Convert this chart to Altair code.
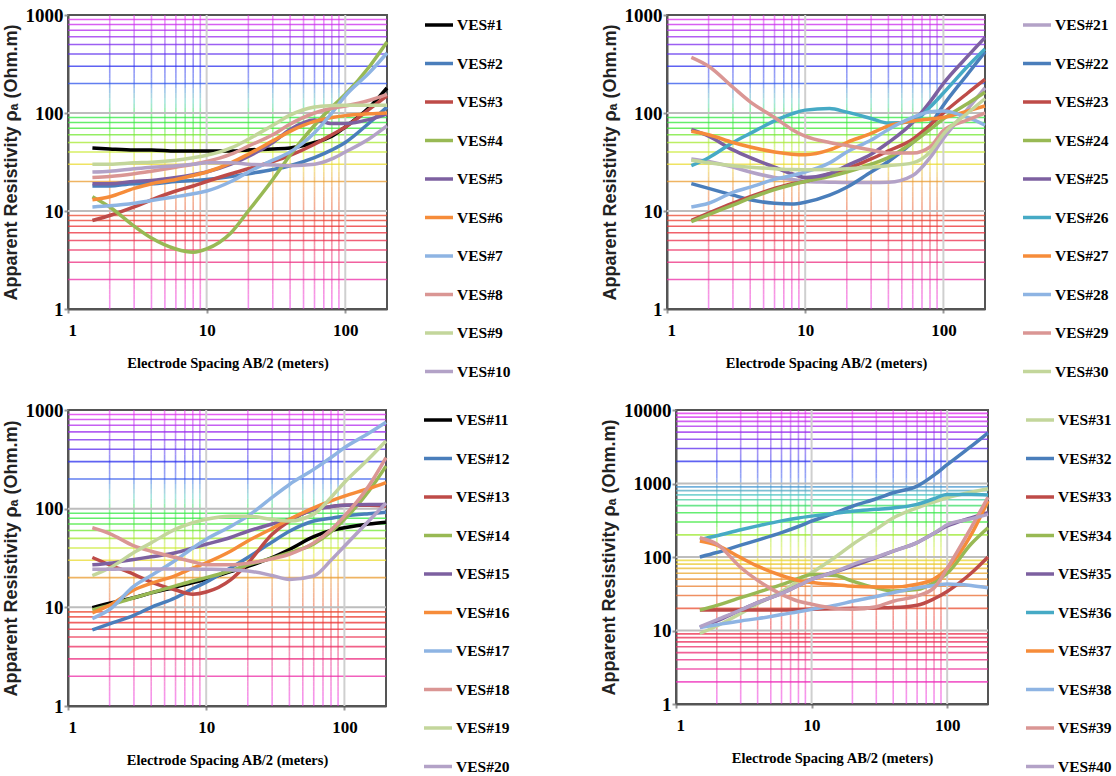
import colorsys
import numpy as np
import pandas as pd
import altair as alt

# ---------------- data ----------------
AB2 = [1.5, 2, 3, 4, 6, 8, 10, 15, 20, 30, 40, 60, 80, 100, 150, 200]

# panel 1
VES_01 = [44, 43, 42, 42, 41, 41, 41, 41, 42, 43, 44, 50, 58, 72, 115, 180]
VES_02 = [18, 18, 19, 19, 20, 20.5, 21, 22.5, 24, 26.5, 29, 35, 42, 50, 80, 115]
VES_03 = [8, 9, 11, 13, 16, 18, 20, 24, 27, 32, 37, 48, 60, 72, 110, 150]
VES_04 = [14, 11, 7, 5.3, 4.1, 3.8, 4.1, 6, 10, 21, 37, 75, 115, 155, 300, 530]
VES_05 = [19, 19, 20, 20.5, 22, 23.5, 25, 30, 36, 50, 68, 85, 78, 78, 86, 98]
VES_06 = [13, 14, 17, 19, 21, 23, 25, 31, 38, 52, 65, 82, 90, 94, 98, 100]
VES_07 = [11, 11.3, 12, 12.8, 14, 15, 16, 20, 25, 33, 40, 63, 100, 150, 260, 410]
VES_08 = [22, 22.5, 24, 25.5, 28, 30, 32, 38, 46, 60, 77, 100, 112, 118, 135, 155]
VES_09 = [30, 30, 31, 31.5, 33, 35, 37, 44, 54, 75, 95, 115, 119, 120, 120, 120]
VES_10 = [25, 25.5, 27, 28, 29, 30, 31, 31, 30, 29.5, 29, 30, 34, 40, 55, 74]

# panel 2
VES_21 = [34, 32, 28, 25, 22, 21, 20, 19.7, 19.5, 19.5, 19.6, 23, 35, 55, 110, 180]
VES_22 = [19, 17, 14.5, 13, 12, 11.8, 12.3, 14.5, 17.5, 25, 32, 50, 75, 120, 250, 420]
VES_23 = [8, 9.5, 12, 14, 17, 19, 20, 24, 27, 34, 41, 54, 75, 100, 160, 220]
VES_24 = [7.8, 9.2, 11.5, 13.5, 16.5, 18.5, 20, 22.5, 25, 30, 35, 50, 68, 87, 125, 163]
VES_25 = [68, 58, 42, 35, 28, 24, 22, 24, 29, 38, 50, 80, 130, 200, 380, 590]
VES_26 = [29, 35, 50, 62, 83, 98, 107, 111, 102, 88, 79, 82, 115, 160, 300, 450]
VES_27 = [65, 60, 50, 45, 40, 38, 37.5, 42, 50, 62, 74, 83, 87, 90, 105, 118]
VES_28 = [11, 12, 15.5, 17.5, 21, 23, 25, 31, 40, 53, 68, 90, 103, 105, 90, 75]
VES_29 = [370, 300, 183, 130, 90, 68, 58, 50, 46.5, 42, 39, 39, 45, 66, 85, 100]
VES_30 = [33, 31, 29, 28, 27, 26.5, 26.4, 26.5, 27, 28, 29, 31, 40, 61, 100, 140]

# panel 3
VES_11 = [9.9, 11, 12.5, 14, 16, 17.8, 19.2, 23, 26, 32, 38.6, 52, 60, 64, 70, 73]
VES_12 = [5.9, 6.8, 8.3, 10, 12.5, 15.5, 18, 25, 32, 46, 59, 75, 80, 84, 89, 92]
VES_13 = [32, 27, 21.6, 18, 15, 13.6, 14.3, 19, 28, 55, 75, 98, 105, 108, 108, 106]
VES_14 = [9.4, 10.5, 12.5, 14, 16.5, 18.5, 20, 23.5, 27, 31.5, 35.8, 44, 58, 78, 150, 270]
VES_15 = [27, 28, 30.6, 32.5, 35.8, 40, 43.6, 51, 59, 70, 78, 98, 105, 108, 110, 110]
VES_16 = [8.8, 10.5, 15, 17.5, 21, 25, 28.3, 37, 47, 63, 78, 102, 120, 134, 160, 184]
VES_17 = [7.7, 9.5, 16.4, 21, 30, 40, 49, 66, 84, 130, 176, 250, 330, 415, 580, 750]
VES_18 = [64, 56, 42, 37, 32, 29, 27, 27, 28, 31, 34.5, 45, 61, 84, 170, 330]
VES_19 = [21, 25, 36, 45, 62, 72, 78, 84, 84, 78, 75, 88, 130, 184, 320, 485]
VES_20 = [24.3, 24.3, 24.5, 24.5, 24.5, 24.4, 24.3, 24, 23.4, 21, 19.2, 20.8, 30, 41.6, 75, 114]

# panel 4
VES_31 = [9.1, 11.5, 17, 23, 34, 47, 61, 100, 148, 240, 340, 466, 560, 640, 760, 850]
VES_32 = [100, 115, 145, 170, 215, 260, 307, 400, 490, 620, 748, 920, 1300, 1800, 3200, 4900]
VES_33 = [19, 19, 19, 19, 19, 19.2, 19.4, 19.7, 20, 20.3, 20.5, 22, 27, 34, 60, 100]
VES_34 = [19, 22, 28, 33, 42, 51, 58, 56, 47, 38, 34.5, 36, 45, 60, 150, 250]
VES_35 = [11, 13.5, 19, 24, 32, 41, 49.6, 63, 75, 98, 120, 157, 210, 264, 340, 400]
VES_36 = [173, 195, 235, 265, 310, 340, 360, 395, 420, 445, 465, 520, 620, 710, 710, 700]
VES_37 = [165, 145, 98, 75, 56, 48, 45, 42, 40, 39, 39, 42.5, 50, 70, 200, 580]
VES_38 = [11, 12, 13.5, 14.5, 16.5, 18, 19.4, 22, 25, 29, 32.7, 38, 41, 43, 41, 38]
VES_39 = [183, 150, 72, 48, 31, 25, 22.8, 20, 19.4, 21, 25, 29.5, 38, 70, 250, 650]
VES_40 = [11.2, 14, 19, 24, 32, 41, 49.6, 63, 79, 100, 120, 157, 210, 275, 330, 380]

BLACK, BLUE, RED, GREEN = "#000000", "#4A7EBB", "#BE4B48", "#98B954"
PURPLE, ORANGE, LBLUE, PINK = "#7D60A0", "#F68C3A", "#8EB4E3", "#DA9694"
LGREEN, LAV, TEAL = "#C3D69B", "#B3A2C7", "#46AAC5"

P1 = (["VES#%d" % i for i in range(1, 11)],
      [VES_01, VES_02, VES_03, VES_04, VES_05, VES_06, VES_07, VES_08, VES_09, VES_10],
      [BLACK, BLUE, RED, GREEN, PURPLE, ORANGE, LBLUE, PINK, LGREEN, LAV])
P2 = (["VES#%d" % i for i in range(21, 31)],
      [VES_21, VES_22, VES_23, VES_24, VES_25, VES_26, VES_27, VES_28, VES_29, VES_30],
      [LAV, BLUE, RED, GREEN, PURPLE, TEAL, ORANGE, LBLUE, PINK, LGREEN])
P3 = (["VES#%d" % i for i in range(11, 21)],
      [VES_11, VES_12, VES_13, VES_14, VES_15, VES_16, VES_17, VES_18, VES_19, VES_20],
      [BLACK, BLUE, RED, GREEN, PURPLE, ORANGE, LBLUE, PINK, LGREEN, LAV])
P4 = (["VES#%d" % i for i in range(31, 41)],
      [VES_31, VES_32, VES_33, VES_34, VES_35, VES_36, VES_37, VES_38, VES_39, VES_40],
      [LGREEN, BLUE, RED, GREEN, PURPLE, TEAL, ORANGE, LBLUE, PINK, LAV])

X_MAX = 200
X_MAJOR = [1, 10, 100]
X_MINOR = [m * 10 ** k for k in range(2) for m in range(2, 10)]


# ---------------- styling helpers ----------------
def grid_color(f):
    fs = [0, 0.28, 0.42, 0.5, 0.575, 0.62, 0.67, 0.72, 0.77, 0.83, 0.87, 0.9, 1.0]
    hs = [300, 360, 390, 418, 445, 480, 490, 550, 590, 600, 615, 625, 660]
    sat = np.interp(f, [0, 0.66, 0.72, 0.77, 1.0], [0.85, 0.8, 0.45, 0.85, 0.85])
    h = (np.interp(f, fs, hs) % 360) / 360.0
    r, g, b = colorsys.hls_to_rgb(h, 0.55, sat)
    return "#%02x%02x%02x" % (int(r * 255), int(g * 255), int(b * 255))


def panel(spec, ymax, width, height):
    names, series, colors = spec
    ndec = int(round(np.log10(ymax)))
    y_major = [10 ** k for k in range(ndec + 1)]
    y_minor = [m * 10 ** k for k in range(ndec) for m in range(2, 10)]

    xs = alt.Scale(type="log", domain=[1, X_MAX], nice=False)
    ys = alt.Scale(type="log", domain=[1, ymax], nice=False)
    xaxis = alt.Axis(values=X_MAJOR, format="d", title="Electrode Spacing AB/2 (meters)",
                     titleFont="Liberation Serif", titleFontSize=14.5, titleFontWeight="bold",
                     titleColor="black", labelFont="Liberation Serif", labelFontSize=17,
                     labelFontWeight="bold", labelColor="black", tickSize=4, tickColor="#999",
                     tickWidth=2, labelPadding=9, titlePadding=18, grid=False,
                     domainColor="#555", domainWidth=2)
    yaxis = alt.Axis(values=y_major, format="d", title="Apparent Resistivity  \u03c1\u2090 (Ohm.m)",
                     titleFont="Liberation Sans", titleFontSize=18, titleFontWeight="bold",
                     titleColor="#222", labelFont="Liberation Serif", labelFontSize=19,
                     labelFontWeight="bold", labelColor="black", tickSize=4, tickColor="#999",
                     tickWidth=2, labelPadding=1, titlePadding=5, grid=False,
                     domainColor="#555", domainWidth=2)

    # colored minor horizontal grid
    hg = pd.DataFrame({"y": y_minor,
                       "col": [grid_color(np.log10(v) / ndec) for v in y_minor]})
    hlayer = alt.Chart(hg).mark_rule(strokeWidth=1.6, opacity=0.75).encode(
        y=alt.Y("y:Q", scale=ys, axis=yaxis),
        color=alt.Color("col:N", scale=None))

    # vertical minor grid, colored along its height
    nseg = 60
    edges = np.linspace(0, ndec, nseg + 1)
    rows = []
    for xv in X_MINOR:
        for i in range(nseg):
            rows.append({"x": xv, "y": 10 ** edges[i], "y2": 10 ** edges[i + 1],
                         "col": grid_color((edges[i] + edges[i + 1]) / 2 / ndec)})
    vg = pd.DataFrame(rows)
    vlayer = alt.Chart(vg).mark_rule(strokeWidth=1.6, opacity=0.5).encode(
        x=alt.X("x:Q", scale=xs, axis=xaxis),
        y=alt.Y("y:Q", scale=ys, axis=yaxis), y2="y2:Q",
        color=alt.Color("col:N", scale=None))

    # major gray grid
    mhy = alt.Chart(pd.DataFrame({"y": y_major[1:-1]})).mark_rule(
        color="#bdbdbd", strokeWidth=2).encode(y=alt.Y("y:Q", scale=ys, axis=yaxis))
    mvx = alt.Chart(pd.DataFrame({"x": X_MAJOR[1:]})).mark_rule(
        color="#cfcfcf", strokeWidth=2).encode(x=alt.X("x:Q", scale=xs, axis=xaxis))

    rows = []
    for n, vals in zip(names, series):
        for k, (a, v) in enumerate(zip(AB2, vals)):
            rows.append({"name": n, "ab2": a, "rho": v, "k": k})
    lines = alt.Chart(pd.DataFrame(rows)).mark_line(
        interpolate="monotone", strokeWidth=3.5).encode(
        x=alt.X("ab2:Q", scale=xs, axis=xaxis),
        y=alt.Y("rho:Q", scale=ys, axis=yaxis),
        order="k:Q",
        color=alt.Color("name:N", scale=alt.Scale(domain=names, range=colors),
                        legend=alt.Legend(orient="none", legendX=width + 36, legendY=-6,
                                          title=None, symbolType="stroke", symbolSize=784,
                                          symbolStrokeWidth=3.5, labelFont="Liberation Serif",
                                          labelFontSize=15.5, labelFontWeight="bold",
                                          labelColor="black", labelOffset=2,
                                          rowPadding=13.5)))
    return alt.layer(vlayer, hlayer, mhy, mvx, lines).resolve_scale(
        color="independent").properties(width=width, height=height)


c1 = panel(P1, 1000, 319, 294)
c2 = panel(P2, 1000, 318, 294)
c3 = panel(P3, 1000, 318, 296)
c4 = panel(P4, 10000, 312, 294)

top = alt.hconcat(c1, c2, spacing=88).resolve_scale(color="independent")
bot = alt.hconcat(c3, c4, spacing=88).resolve_scale(color="independent")
chart = alt.vconcat(top, bot, spacing=19).resolve_scale(color="independent").properties(
    padding={"left": 1, "top": 5, "right": 0, "bottom": 0},
    background="white").configure_view(stroke="#555", strokeWidth=2)

chart.save("out.html", embed_options={"renderer": "svg", "actions": False})
